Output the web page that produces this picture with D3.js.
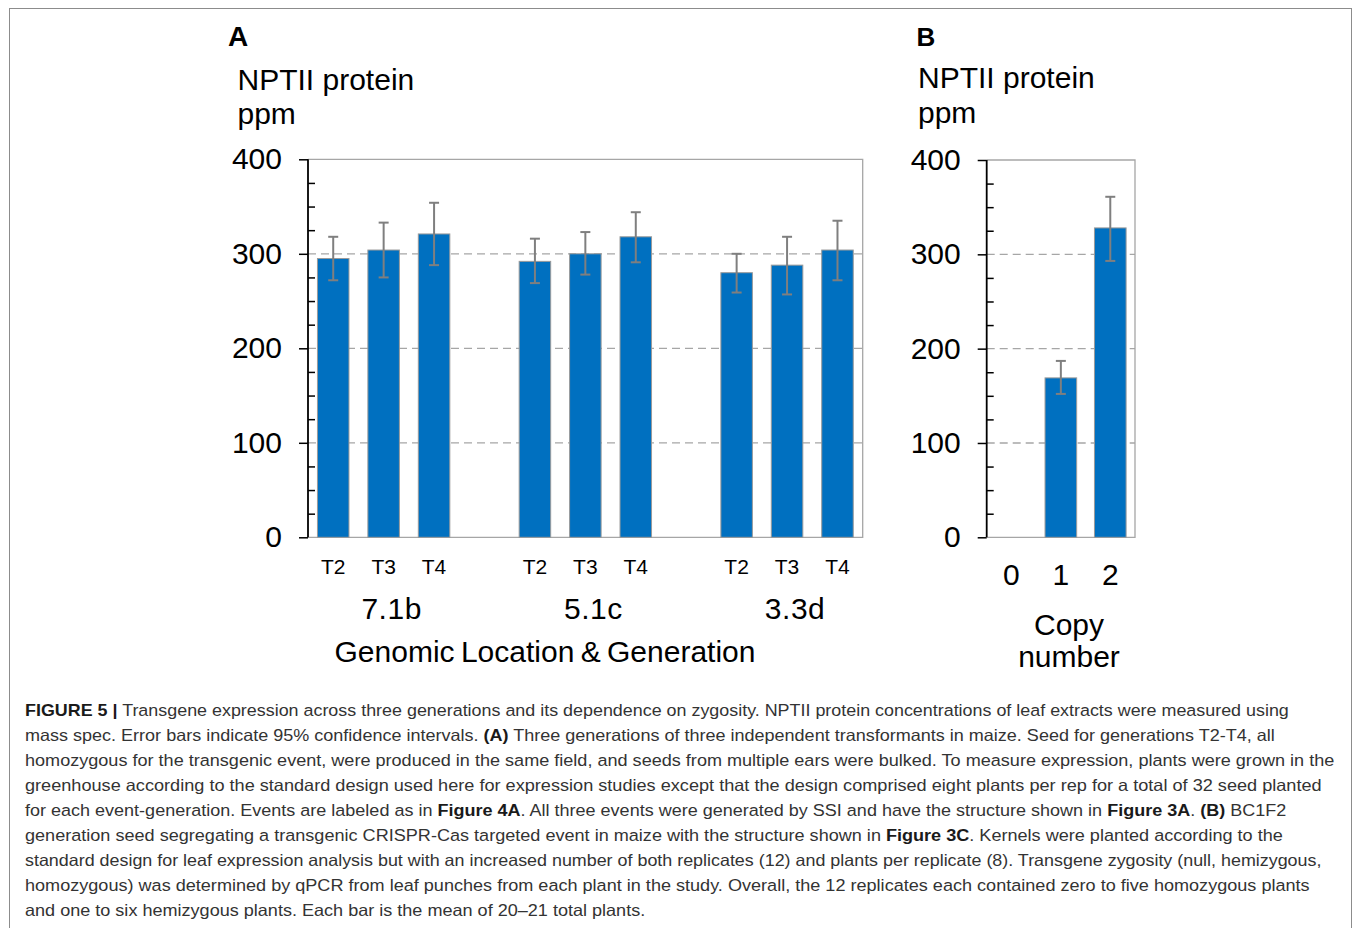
<!DOCTYPE html>
<html>
<head>
<meta charset="utf-8">
<script src="https://cdn.jsdelivr.net/npm/d3@7"></script>
<style>
  html, body { margin: 0; padding: 0; background: #fff; }
  svg { display: block; font-family: "Liberation Sans", Arial, sans-serif; }
</style>
</head>
<body>
<svg id="chart"></svg>
<script>
// data
const events = ["7.1b", "5.1c", "3.3d"];
const generations = ["T2", "T3", "T4"];
const meanA = [295, 304, 321, 292, 300, 318, 280, 288, 304];
const lowA  = [272, 275, 288, 269, 278, 291, 259, 257, 272];
const highA = [318, 333, 354, 316, 323, 344, 300, 318, 335];

const copyNumbers = ["0", "1", "2"];
const meanB = [0, 169, 328];
const lowB  = [null, 152, 293];
const highB = [null, 187, 361];

const yTicks = [0, 100, 200, 300, 400];
const yMinor = [25, 50, 75, 125, 150, 175, 225, 250, 275, 325, 350, 375];

const captionLines = [
  "**FIGURE 5 |** Transgene expression across three generations and its dependence on zygosity. NPTII protein concentrations of leaf extracts were measured using",
  "mass spec. Error bars indicate 95% confidence intervals. **(A)** Three generations of three independent transformants in maize. Seed for generations T2-T4, all",
  "homozygous for the transgenic event, were produced in the same field, and seeds from multiple ears were bulked. To measure expression, plants were grown in the",
  "greenhouse according to the standard design used here for expression studies except that the design comprised eight plants per rep for a total of 32 seed planted",
  "for each event-generation. Events are labeled as in **Figure 4A**. All three events were generated by SSI and have the structure shown in **Figure 3A**. **(B)** BC1F2",
  "generation seed segregating a transgenic CRISPR-Cas targeted event in maize with the structure shown in **Figure 3C**. Kernels were planted according to the",
  "standard design for leaf expression analysis but with an increased number of both replicates (12) and plants per replicate (8). Transgene zygosity (null, hemizygous,",
  "homozygous) was determined by qPCR from leaf punches from each plant in the study. Overall, the 12 replicates each contained zero to five homozygous plants",
  "and one to six hemizygous plants. Each bar is the mean of 20\u201321 total plants."
];
// right end of each caption line in the page
const captionEnds = [1290, 1276, 1335, 1322, 1287, 1284, 1322, 1311, 645];

const width = 1355, height = 928;
const barBlue = "#0070c0", errGrey = "#7f7f7f", frameGrey = "#a6a6a6";

const svg = d3.select("#chart")
    .attr("width", width)
    .attr("height", height);

// outer frame
svg.append("rect")
    .attr("x", 9.5).attr("y", 8.5)
    .attr("width", 1342).attr("height", 960)
    .attr("fill", "none")
    .attr("stroke", "#8c8c8c")
    .attr("stroke-width", 1);

// shared drawing for one panel
function drawPanel(opt) {
    const g = svg.append("g");
    const x = d3.scaleBand()
        .domain(opt.slots)
        .range([opt.left, opt.right])
        .paddingInner(opt.pad)
        .paddingOuter(opt.pad / 2);
    const y = d3.scaleLinear().domain([0, 400]).range([opt.bottom, opt.top]);

    // dashed gridlines
    g.append("g")
        .selectAll("line")
        .data(yTicks.filter(d => d > 0 && d < 400))
        .join("line")
        .attr("x1", opt.left).attr("x2", opt.right)
        .attr("y1", d => y(d)).attr("y2", d => y(d))
        .attr("stroke", "#a6a6a6")
        .attr("stroke-width", 1.3)
        .attr("stroke-dasharray", "8,5");

    // plot frame (top, right, bottom)
    g.append("path")
        .attr("d", `M${opt.left},${y(400)}H${opt.right}V${y(0)}H${opt.left}`)
        .attr("fill", "none")
        .attr("stroke", frameGrey)
        .attr("stroke-width", 1.3);

    // bars
    const bars = opt.values.map((v, i) => ({key: opt.keys[i], v, lo: opt.low[i], hi: opt.high[i]}));
    g.append("g")
        .selectAll("rect")
        .data(bars.filter(d => d.v > 0))
        .join("rect")
        .attr("x", d => x(d.key))
        .attr("width", x.bandwidth())
        .attr("y", d => y(d.v))
        .attr("height", d => y(0) - y(d.v))
        .attr("fill", barBlue)
        .attr("stroke", "#9a9a9a")
        .attr("stroke-width", 1);

    // error bars
    const eb = g.append("g")
        .attr("stroke", errGrey)
        .attr("stroke-width", 2)
        .selectAll("g")
        .data(bars.filter(d => d.lo != null))
        .join("g")
        .attr("transform", d => `translate(${x(d.key) + x.bandwidth() / 2},0)`);
    eb.append("line").attr("y1", d => y(d.lo)).attr("y2", d => y(d.hi));
    eb.append("line").attr("x1", -5).attr("x2", 5).attr("y1", d => y(d.hi)).attr("y2", d => y(d.hi));
    eb.append("line").attr("x1", -5).attr("x2", 5).attr("y1", d => y(d.lo)).attr("y2", d => y(d.lo));

    // y axis: major ticks outside with labels
    const ax = g.append("g")
        .attr("transform", `translate(${opt.left},0)`)
        .call(d3.axisLeft(y).tickValues(yTicks).tickSize(9).tickPadding(17));
    ax.select(".domain").remove();
    ax.selectAll(".tick line").attr("stroke", "#000").attr("stroke-width", 1.5);
    ax.selectAll(".tick text")
        .attr("font-family", "Liberation Sans, Arial, sans-serif")
        .attr("font-size", 30)
        .attr("fill", "#000");

    // minor ticks inside
    const mx = g.append("g")
        .attr("transform", `translate(${opt.left},0)`)
        .call(d3.axisRight(y).tickValues(yMinor).tickSize(7).tickFormat(""));
    mx.select(".domain").remove();
    mx.selectAll(".tick line").attr("stroke", "#000").attr("stroke-width", 1.5);

    g.append("line")
        .attr("x1", opt.left).attr("x2", opt.left)
        .attr("y1", y(400)).attr("y2", y(0))
        .attr("stroke", "#000")
        .attr("stroke-width", 1.8);

    // y title
    g.append("text")
        .attr("x", opt.titleX).attr("y", opt.titleY)
        .attr("font-size", 30)
        .text("NPTII protein");
    g.append("text")
        .attr("x", opt.titleX).attr("y", opt.titleY2)
        .attr("font-size", 30)
        .text("ppm");

    // panel letter
    g.append("text")
        .attr("x", opt.letterX).attr("y", 46)
        .attr("font-size", opt.letterSize)
        .attr("font-weight", "bold")
        .text(opt.letter);

    return {g, x, y};
}

// panel A
const slotsA = [];
const keysA = [];
events.forEach((e, i) => {
    generations.forEach(t => { slotsA.push(e + "|" + t); keysA.push(e + "|" + t); });
    if (i < events.length - 1) slotsA.push("gap" + i);
});

const pA = drawPanel({
    slots: slotsA, keys: keysA, values: meanA, low: lowA, high: highA,
    left: 308, right: 862.7, top: 159.3, bottom: 537.3, pad: 0.375,
    titleX: 237.5, titleY: 90, titleY2: 124,
    letter: "A", letterX: 228, letterSize: 28
});

pA.g.append("g")
    .selectAll("text")
    .data(keysA)
    .join("text")
    .attr("x", d => pA.x(d) + pA.x.bandwidth() / 2)
    .attr("y", 573.5)
    .attr("text-anchor", "middle")
    .attr("font-size", 21)
    .text(d => d.split("|")[1]);

pA.g.append("g")
    .selectAll("text")
    .data(events)
    .join("text")
    .attr("x", e => (pA.x(e + "|T2") + pA.x(e + "|T4") + pA.x.bandwidth()) / 2 + 8)
    .attr("y", 618.5)
    .attr("text-anchor", "middle")
    .attr("font-size", 30)
    .attr("letter-spacing", 0.5)
    .text(d => d);

pA.g.append("text")
    .attr("x", 545)
    .attr("y", 662)
    .attr("text-anchor", "middle")
    .attr("font-size", 30)
    .attr("word-spacing", -2)
    .text("Genomic Location & Generation");

// panel B
const pB = drawPanel({
    slots: copyNumbers, keys: copyNumbers, values: meanB, low: lowB, high: highB,
    left: 986.7, right: 1135, top: 160, bottom: 537.3, pad: 0.36,
    titleX: 918, titleY: 88, titleY2: 123,
    letter: "B", letterX: 916.5, letterSize: 26
});

pB.g.append("g")
    .selectAll("text")
    .data(copyNumbers)
    .join("text")
    .attr("x", d => pB.x(d) + pB.x.bandwidth() / 2)
    .attr("y", 585)
    .attr("text-anchor", "middle")
    .attr("font-size", 30)
    .text(d => d);

pB.g.append("text")
    .attr("x", 1069).attr("y", 635)
    .attr("text-anchor", "middle")
    .attr("font-size", 30)
    .text("Copy");
pB.g.append("text")
    .attr("x", 1069).attr("y", 667)
    .attr("text-anchor", "middle")
    .attr("font-size", 30)
    .text("number");

// caption, each line fitted to its width
const cap = svg.append("g")
    .attr("font-family", "Liberation Sans, Arial, sans-serif")
    .attr("font-size", 16.5)
    .attr("fill", "#333");

captionLines.forEach((line, i) => {
    const t = cap.append("text").attr("x", 0).attr("y", 0);
    line.split("**").forEach((seg, j) => {
        if (!seg) return;
        const s = t.append("tspan").text(seg);
        if (j % 2 === 1) s.attr("font-weight", "bold").attr("fill", "#1a1a1a");
    });
    const len = t.node().getComputedTextLength();
    const k = (captionEnds[i] - 25) / len;
    t.attr("transform", `translate(25,${716 + i * 25}) scale(${k},1)`);
});
</script>
</body>
</html>
